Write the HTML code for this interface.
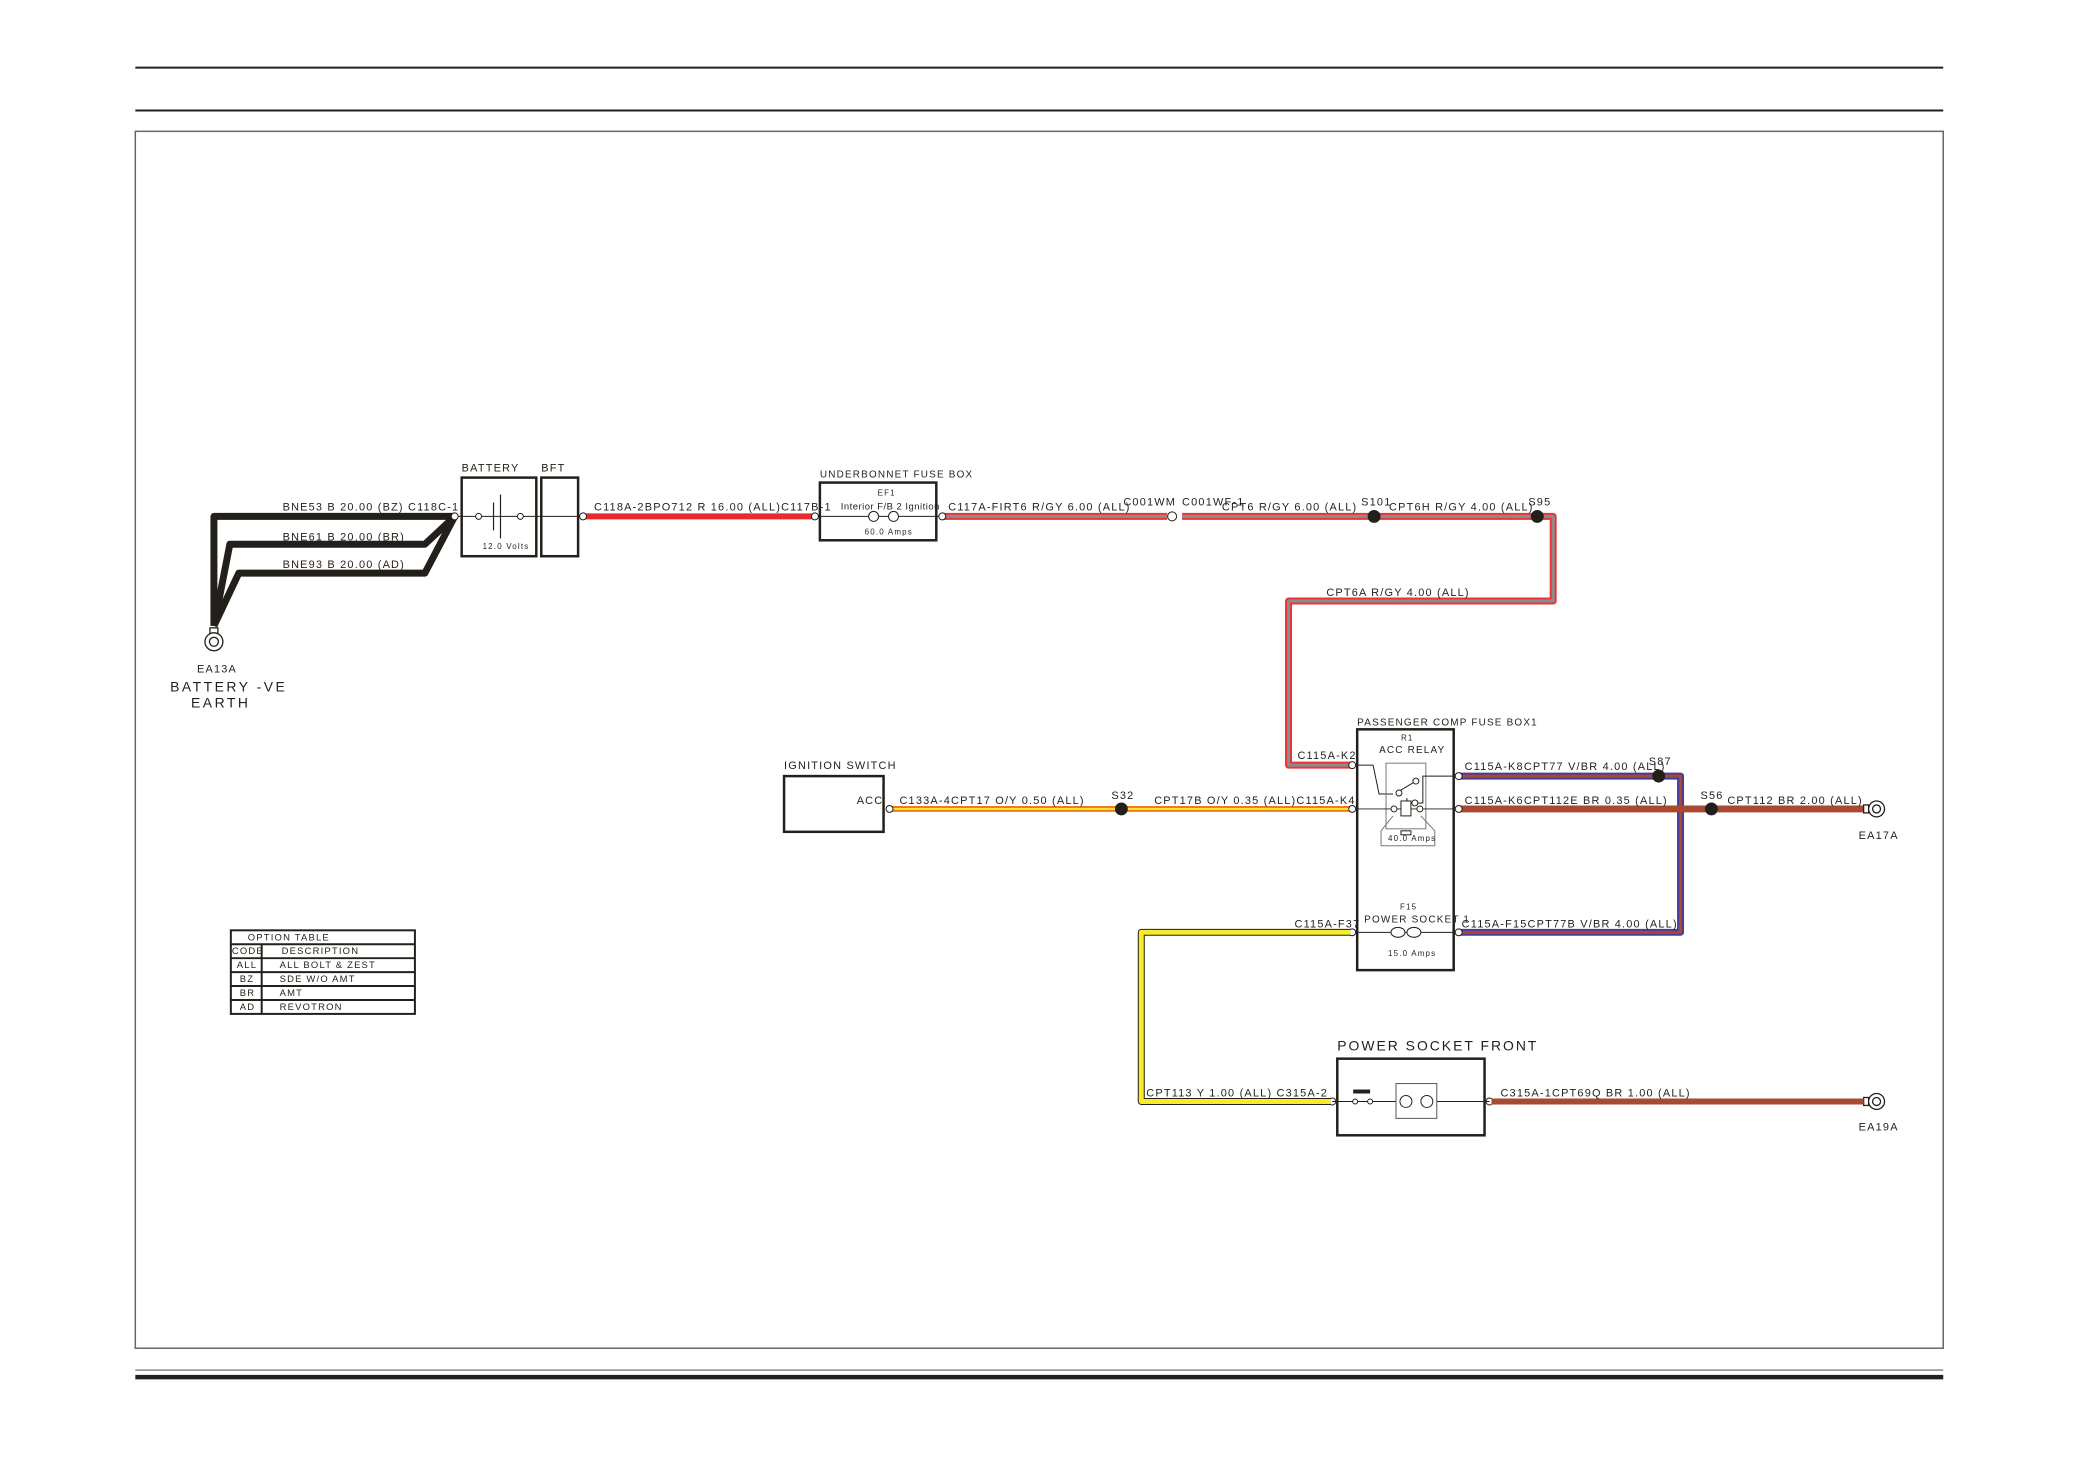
<!DOCTYPE html>
<html><head><meta charset="utf-8"><style>
html,body{margin:0;padding:0;background:#fff}
svg{display:block}
text{font-family:"Liberation Sans",sans-serif;font-size:11px;fill:#231f1a;letter-spacing:1.2px}
</style></head><body>
<svg width="2080" height="1471" viewBox="0 0 2080 1471" xmlns="http://www.w3.org/2000/svg">
<g transform="scale(0.995)">
<g stroke="#231f1a" fill="none">
<line x1="136" y1="68" x2="1953" y2="68" stroke-width="2"/>
<line x1="136" y1="111" x2="1953" y2="111" stroke-width="2"/>
<rect x="136" y="132" width="1817" height="1223" stroke="#666" stroke-width="1.5"/>
<line x1="136" y1="1377" x2="1953" y2="1377" stroke="#888" stroke-width="1.5"/>
<line x1="136" y1="1384" x2="1953" y2="1384" stroke-width="4.5"/>
</g>

<g stroke="#231f1a" stroke-width="7" fill="none" stroke-linejoin="round">
<polyline points="457,519 215,519 215,629"/>
<polyline points="457,519 427,547 231,547 215,629"/>
<polyline points="457,519 427,576 240,576 215,629"/>
</g>
<g stroke="#231f1a" fill="#fff" stroke-width="1.3">
<rect x="211" y="631" width="8" height="6"/>
<circle cx="215" cy="645" r="9"/><circle cx="215" cy="645" r="4.5"/>
</g>
<text x="198" y="676">EA13A</text>
<text x="171" y="695" style="font-size:14px;letter-spacing:2.5px">BATTERY -VE</text>
<text x="192" y="711" style="font-size:14px;letter-spacing:2.5px">EARTH</text>
<text x="284" y="513">BNE53 B 20.00 (BZ) C118C-1</text>
<text x="284" y="543">BNE61 B 20.00 (BR)</text>
<text x="284" y="571">BNE93 B 20.00 (AD)</text>

<g stroke="#231f1a" fill="none">
<rect x="464" y="480" width="75" height="79" stroke-width="2.5"/>
<rect x="544" y="480" width="37" height="79" stroke-width="2.5"/>
<line x1="457" y1="519" x2="587" y2="519" stroke-width="1"/>
<line x1="496" y1="505" x2="496" y2="533" stroke-width="1.2"/>
<line x1="503" y1="497" x2="503" y2="541" stroke-width="1.2"/>
</g>
<g stroke="#231f1a" fill="#fff" stroke-width="1"><circle cx="481" cy="519" r="3"/><circle cx="523" cy="519" r="3"/></g>
<text x="464" y="474">BATTERY</text><text x="544" y="474">BFT</text>
<text x="485" y="552" style="font-size:8px">12.0 Volts</text>

<line x1="588" y1="519" x2="818" y2="519" stroke="#e82a2a" stroke-width="6"/>
<text x="597" y="513">C118A-2BPO712 R 16.00 (ALL)C117B-1</text>

<rect x="824" y="485" width="117" height="58" fill="none" stroke="#231f1a" stroke-width="2.5"/>
<line x1="818" y1="519" x2="947" y2="519" stroke="#231f1a" stroke-width="1"/>
<g stroke="#231f1a" fill="#fff" stroke-width="1"><circle cx="878" cy="519" r="5"/><circle cx="898" cy="519" r="5"/></g>
<text x="824" y="480" style="font-size:10px">UNDERBONNET FUSE BOX</text>
<text x="882" y="498" style="font-size:8px">EF1</text>
<text x="845" y="512" style="font-size:9.5px;letter-spacing:0.5px">Interior F/B 2 Ignition</text>
<text x="869" y="537" style="font-size:8px">60.0 Amps</text>

<g fill="none" stroke-linejoin="round">
<polyline points="947,519 1173,519" stroke="#e8353a" stroke-width="7"/>
<polyline points="947,519 1173,519" stroke="#8c8c8c" stroke-width="3"/>
<polyline points="1188,519 1561,519 1561,604 1295,604 1295,769 1357,769" stroke="#e8353a" stroke-width="7"/>
<polyline points="1188,519 1561,519 1561,604 1295,604 1295,769 1357,769" stroke="#8c8c8c" stroke-width="3"/>
</g>
<text x="953" y="513">C117A-FIRT6 R/GY 6.00 (ALL)</text>
<text x="1129" y="508">C001WM</text><text x="1188" y="508">C001WF-1</text>
<text x="1228" y="513">CPT6 R/GY 6.00 (ALL)</text>
<text x="1368" y="508">S101</text>
<text x="1396" y="513">CPT6H R/GY 4.00 (ALL)</text>
<text x="1536" y="508">S95</text>
<text x="1333" y="599">CPT6A R/GY 4.00 (ALL)</text>
<circle cx="1178" cy="519" r="4.5" fill="#fff" stroke="#231f1a"/>
<circle cx="1381" cy="519" r="6.5" fill="#231f1a"/>
<circle cx="1545" cy="519" r="6.5" fill="#231f1a"/>

<rect x="788" y="780" width="100" height="56" fill="none" stroke="#231f1a" stroke-width="2.5"/>
<text x="788" y="773">IGNITION SWITCH</text>
<text x="861" y="808">ACC</text>
<line x1="893" y1="813" x2="1357" y2="813" stroke="#f07a1e" stroke-width="6"/>
<line x1="893" y1="813" x2="1357" y2="813" stroke="#f8e63a" stroke-width="2"/>
<text x="904" y="808">C133A-4CPT17 O/Y 0.50 (ALL)</text>
<text x="1117" y="803">S32</text>
<circle cx="1127" cy="813" r="6.5" fill="#231f1a"/>
<text x="1160" y="808">CPT17B O/Y 0.35 (ALL)C115A-K4</text>

<g fill="none" stroke-linejoin="round">
<polyline points="1467,780 1689,780 1689,937 1467,937" stroke="#4a3a9a" stroke-width="7"/>
<polyline points="1467,780 1689,780 1689,937 1467,937" stroke="#a54a30" stroke-width="3"/>
</g>
<line x1="1467" y1="813" x2="1873" y2="813" stroke="#a84a32" stroke-width="7"/>
<circle cx="1667" cy="780" r="6.5" fill="#231f1a"/>
<circle cx="1720" cy="813" r="6.5" fill="#231f1a"/>
<text x="1472" y="774">C115A-K8CPT77 V/BR 4.00 (ALL)</text>
<text x="1657" y="769">S87</text>
<text x="1472" y="808">C115A-K6CPT112E BR 0.35 (ALL)</text>
<text x="1709" y="803">S56</text>
<text x="1736" y="808">CPT112 BR 2.00 (ALL)</text>
<text x="1469" y="932">C115A-F15CPT77B V/BR 4.00 (ALL)</text>
<g stroke="#231f1a" fill="#fff" stroke-width="1.3">
<rect x="1873" y="809" width="5" height="8"/><circle cx="1886" cy="813" r="8"/><circle cx="1886" cy="813" r="4"/>
<rect x="1873" y="1103" width="5" height="8"/><circle cx="1886" cy="1107" r="8"/><circle cx="1886" cy="1107" r="4"/>
</g>
<text x="1868" y="843">EA17A</text>
<text x="1868" y="1136">EA19A</text>

<rect x="1364" y="733" width="97" height="242" fill="none" stroke="#231f1a" stroke-width="2.5"/>
<text x="1364" y="729" style="font-size:10px">PASSENGER COMP FUSE BOX1</text>
<text x="1408" y="744" style="font-size:8px">R1</text>
<text x="1386" y="757" style="font-size:10px">ACC RELAY</text>
<g stroke="#231f1a" fill="none" stroke-width="1">
<line x1="1357" y1="769" x2="1380" y2="769"/>
<polyline points="1380,769 1386,798 1400,798"/>
<rect x="1393" y="767" width="40" height="66" stroke="#777"/>
<line x1="1403" y1="797" x2="1423" y2="785"/>
<line x1="1414" y1="802" x2="1414" y2="811"/>
<polyline points="1422,807 1430,807 1430,780 1467,780"/>
<line x1="1357" y1="813" x2="1467" y2="813"/>
<rect x="1408" y="805" width="10" height="15" fill="#fff"/>
<polyline points="1400,820 1388,835 1388,850 1442,850 1442,835 1428,820" stroke="#777"/>
<rect x="1408" y="835" width="10" height="4"/>
<line x1="1357" y1="937" x2="1467" y2="937"/>
</g>
<g stroke="#231f1a" fill="#fff" stroke-width="1">
<circle cx="1406" cy="797" r="3"/><circle cx="1423" cy="785" r="3"/><circle cx="1422" cy="807" r="3"/><circle cx="1401" cy="813" r="3"/><circle cx="1427" cy="813" r="3"/>
<ellipse cx="1405" cy="937" rx="7" ry="5"/><ellipse cx="1421" cy="937" rx="7" ry="5"/>
</g>
<text x="1395" y="845" style="font-size:8px">40.0 Amps</text>
<text x="1407" y="914" style="font-size:8px">F15</text>
<text x="1371" y="927" style="font-size:10px">POWER SOCKET 1</text>
<text x="1395" y="961" style="font-size:8px">15.0 Amps</text>
<g stroke="#231f1a" fill="#fff" stroke-width="1">
<circle cx="1359" cy="769" r="3.5"/><circle cx="1359" cy="813" r="3.5"/><circle cx="1359" cy="937" r="3.5"/>
<circle cx="1466" cy="780" r="3.5"/><circle cx="1466" cy="813" r="3.5"/><circle cx="1466" cy="937" r="3.5"/>
<circle cx="457" cy="519" r="3.5"/><circle cx="586" cy="519" r="3.5"/><circle cx="819" cy="519" r="3.5"/><circle cx="947" cy="519" r="3.5"/><circle cx="894" cy="813" r="3.5"/>
<circle cx="1339" cy="1107" r="3.5"/><circle cx="1497" cy="1107" r="3.5"/>
</g>
<text x="1304" y="763">C115A-K2</text>

<polyline points="1357,937 1147,937 1147,1107 1337,1107" fill="none" stroke="#231f1a" stroke-width="7" stroke-linejoin="round"/>
<polyline points="1357,937 1147,937 1147,1107 1337,1107" fill="none" stroke="#f8ec2a" stroke-width="5" stroke-linejoin="round"/>
<text x="1301" y="932">C115A-F37</text>
<text x="1152" y="1102">CPT113 Y 1.00 (ALL)  C315A-2</text>

<rect x="1344" y="1064" width="148" height="77" fill="none" stroke="#231f1a" stroke-width="2.5"/>
<text x="1344" y="1056" style="font-size:14px;letter-spacing:2px">POWER SOCKET FRONT</text>
<line x1="1339" y1="1107" x2="1497" y2="1107" stroke="#231f1a" stroke-width="1"/>
<rect x="1360" y="1095" width="17" height="4" fill="#231f1a"/>
<rect x="1403" y="1089" width="41" height="35" fill="#fff" stroke="#555" stroke-width="1"/>
<g stroke="#231f1a" fill="#fff" stroke-width="1">
<circle cx="1362" cy="1107" r="2.5"/><circle cx="1377" cy="1107" r="2.5"/>
<circle cx="1413" cy="1107" r="6"/><circle cx="1434" cy="1107" r="6"/>
</g>
<line x1="1499" y1="1107" x2="1873" y2="1107" stroke="#a84a32" stroke-width="6"/>
<text x="1508" y="1102">C315A-1CPT69Q BR 1.00 (ALL)</text>

<g stroke="#231f1a" fill="none" stroke-width="2">
<rect x="232" y="935" width="185" height="84"/>
<line x1="232" y1="949" x2="417" y2="949"/>
<line x1="232" y1="963" x2="417" y2="963"/>
<line x1="232" y1="977" x2="417" y2="977"/>
<line x1="232" y1="991" x2="417" y2="991"/>
<line x1="232" y1="1005" x2="417" y2="1005"/>
<line x1="263" y1="949" x2="263" y2="1019"/>
</g>
<text x="249" y="945" style="font-size:9.5px">OPTION TABLE</text>
<text x="233" y="959" style="font-size:9.5px">CODE</text><text x="283" y="959" style="font-size:9.5px">DESCRIPTION</text>
<text x="238" y="973" style="font-size:9.5px">ALL</text><text x="281" y="973" style="font-size:9.5px">ALL BOLT &amp; ZEST</text>
<text x="241" y="987" style="font-size:9.5px">BZ</text><text x="281" y="987" style="font-size:9.5px">SDE W/O AMT</text>
<text x="241" y="1001" style="font-size:9.5px">BR</text><text x="281" y="1001" style="font-size:9.5px">AMT</text>
<text x="241" y="1015" style="font-size:9.5px">AD</text><text x="281" y="1015" style="font-size:9.5px">REVOTRON</text>
</g>
</svg>
</body></html>
